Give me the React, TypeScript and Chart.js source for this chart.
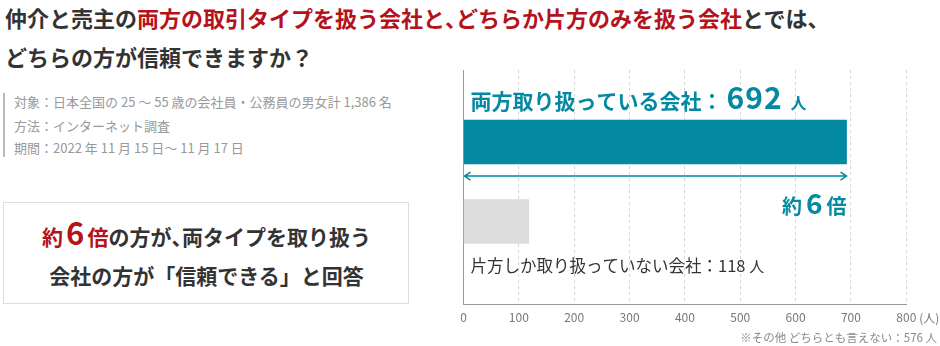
import React, { useEffect, useRef } from "react";
import { Chart, registerables } from "chart.js";

Chart.register(...registerables);

const categories = ["両方取り扱っている会社", "片方しか取り扱っていない会社"];
const values = [692, 118];
const barColors = ["#0389a1", "#dcdcdc"];
const unitLabel = "人";
const ratioParts = ["約", "6", "倍"];
const otherLabel = "※その他 どちらとも言えない：";
const otherValue = 576;
const xMax = 800;
const xStep = 100;

const FONT = '"Noto Sans CJK JP", "Noto Sans", sans-serif';
const TEAL = "#0389a1";
const RED = "#b5121b";
const DARK = "#333333";

const labelsPlugin = {
  id: "labels",
  afterDatasetsDraw(chart: any) {
    const ctx = chart.ctx;
    const meta = chart.getDatasetMeta(0);
    const xs = chart.scales.x;
    const left = chart.chartArea.left;
    const b0 = meta.data[0];
    const b1 = meta.data[1];
    const top0 = b0.y - b0.height / 2;
    const bot0 = b0.y + b0.height / 2;
    const bot1 = b1.y + b1.height / 2;
    ctx.save();
    ctx.textBaseline = "alphabetic";
    ctx.textAlign = "left";
    // top label
    let x = left + 7;
    const y = top0 - 11;
    ctx.fillStyle = TEAL;
    ctx.font = `bold 21px ${FONT}`;
    const t0 = categories[0] + "：";
    ctx.fillText(t0, x, y);
    x += ctx.measureText(t0).width + 4;
    ctx.font = `bold 30px ${FONT}`;
    (ctx as any).letterSpacing = "1px";
    const v0 = String(values[0]);
    ctx.fillText(v0, x, y);
    x += ctx.measureText(v0).width + 8;
    (ctx as any).letterSpacing = "0px";
    ctx.font = `bold 16px ${FONT}`;
    ctx.fillText(unitLabel, x, y);

    // arrow
    const ax0 = left + 1;
    const ax1 = xs.getPixelForValue(values[0]);
    const ay = bot0 + 12;
    ctx.strokeStyle = TEAL;
    ctx.lineWidth = 1.5;
    ctx.beginPath();
    ctx.moveTo(ax0, ay);
    ctx.lineTo(ax1, ay);
    ctx.moveTo(ax0 + 6, ay - 4);
    ctx.lineTo(ax0, ay);
    ctx.lineTo(ax0 + 6, ay + 4);
    ctx.moveTo(ax1 - 6, ay - 4);
    ctx.lineTo(ax1, ay);
    ctx.lineTo(ax1 - 6, ay + 4);
    ctx.stroke();

    // ratio label right aligned to bar end
    const ry = ay + 38;
    ctx.font = `bold 20px ${FONT}`;
    const w0 = ctx.measureText(ratioParts[0]).width;
    const w2 = ctx.measureText(ratioParts[2]).width;
    ctx.font = `bold 28px ${FONT}`;
    const w1 = ctx.measureText(ratioParts[1]).width;
    let rx = ax1 - (w0 + w1 + w2 + 8);
    ctx.fillStyle = TEAL;
    ctx.font = `bold 20px ${FONT}`;
    ctx.fillText(ratioParts[0], rx, ry);
    rx += w0 + 4;
    ctx.font = `bold 28px ${FONT}`;
    ctx.fillText(ratioParts[1], rx, ry);
    rx += w1 + 4;
    ctx.font = `bold 20px ${FONT}`;
    ctx.fillText(ratioParts[2], rx, ry);

    // bottom label
    ctx.fillStyle = DARK;
    ctx.font = `16.5px ${FONT}`;
    const t1 = categories[1] + "：" + values[1] + " ";
    const by = bot1 + 29;
    ctx.fillText(t1, left + 7, by);
    const tw = ctx.measureText(t1).width;
    ctx.font = `15px ${FONT}`;
    ctx.fillText(unitLabel, left + 7 + tw, by);

    // axis unit
    ctx.fillStyle = "#777";
    ctx.font = `12px ${FONT}`;
    const px = xs.getPixelForValue(xMax);
    const hw = ctx.measureText(String(xMax)).width / 2;
    ctx.textBaseline = "middle";
    ctx.fillText("(" + unitLabel + ")", px + hw + 3, chart.chartArea.bottom + 14);
    ctx.restore();
  },
};

const Half = () => <span style={{ letterSpacing: "-0.5em" }}>、</span>;

export default function App() {
  const ref = useRef<HTMLCanvasElement>(null);
  useEffect(() => {
    if (!ref.current) return;
    const chart = new Chart(ref.current, {
      type: "bar",
      data: {
        datasets: [
          {
            data: values.map((v, i) => ({ x: v, y: i })),
            backgroundColor: barColors,
            barThickness: 44,
            borderWidth: 0,
          },
        ],
      },
      options: {
        indexAxis: "y",
        responsive: false,
        animation: false,
        layout: { padding: { left: 23.5, right: 33.7, top: 10, bottom: 0 } },
        plugins: { legend: { display: false }, tooltip: { enabled: false } },
        scales: {
          x: {
            type: "linear",
            min: 0,
            max: xMax,
            ticks: {
              stepSize: xStep,
              color: "#777",
              font: { size: 12, family: FONT },
              padding: 6,
            },
            grid: { color: "#d6d6d6", drawTicks: false, lineWidth: 1 },
            border: { color: "#999", width: 1, dash: [3, 3] },
            afterFit: (s: any) => {
              s.height = 30;
            },
          },
          y: {
            type: "linear",
            offset: false,
            min: -0.906,
            max: 2.038,
            reverse: true,
            ticks: { display: false },
            grid: { display: false },
            border: { color: "#999", width: 1 },
            afterFit: (s: any) => {
              s.width = 0;
            },
          },
        },
      },
      plugins: [labelsPlugin],
    } as any);
    return () => chart.destroy();
  }, []);

  const abs = (extra: React.CSSProperties): React.CSSProperties => ({
    position: "absolute",
    whiteSpace: "nowrap",
    fontFamily: FONT,
    lineHeight: 1,
    ...extra,
  });

  return (
    <div style={{ position: "absolute", left: 0, top: 0, width: 940, height: 346, background: "#fff", overflow: "hidden" }}>
      <div style={abs({ left: 5, top: 6, fontSize: 22, fontWeight: 700, color: DARK })}>
        仲介と売主の
        <span style={{ color: RED }}>
          両方の取引タイプを扱う会社と<Half />どちらか片方のみを扱う会社
        </span>
        とでは、
      </div>
      <div style={abs({ left: 5, top: 45, fontSize: 22, fontWeight: 700, color: DARK })}>
        どちらの方が信頼できますか？
      </div>
      <div style={{ position: "absolute", left: 3, top: 93, width: 2, height: 64, background: "#bbb" }} />
      <div style={abs({ left: 14, top: 95, fontSize: 13, color: "#999" })}>
        対象：日本全国の 25 〜 55 歳の会社員・公務員の男女計 1,386 名
      </div>
      <div style={abs({ left: 14, top: 119, fontSize: 13, color: "#999" })}>方法：インターネット調査</div>
      <div style={abs({ left: 14, top: 141, fontSize: 13, color: "#999" })}>
        期間：2022 年 11 月 15 日〜 11 月 17 日
      </div>
      <div
        style={{
          position: "absolute",
          left: 3,
          top: 202,
          width: 404,
          height: 100,
          border: "1.5px solid #ddd",
        }}
      />
      <div style={abs({ left: 3, width: 407, top: 216, textAlign: "center", fontSize: 21, fontWeight: 700, color: DARK })}>
        <span style={{ color: RED }}>
          約<span style={{ fontSize: 31, margin: "0 3px" }}>6</span>倍
        </span>
        の方が<Half />両タイプを取り扱う
      </div>
      <div style={abs({ left: 3, width: 407, top: 265, textAlign: "center", fontSize: 21, fontWeight: 700, color: DARK })}>
        会社の方が「信頼できる」と回答
      </div>
      <canvas ref={ref} width={500} height={274} style={{ position: "absolute", left: 440, top: 60 }} />
      <div style={abs({ right: 3, top: 332, fontSize: 11.5, color: "#888" })}>
        {otherLabel}
        {otherValue} {unitLabel}
      </div>
    </div>
  );
}
